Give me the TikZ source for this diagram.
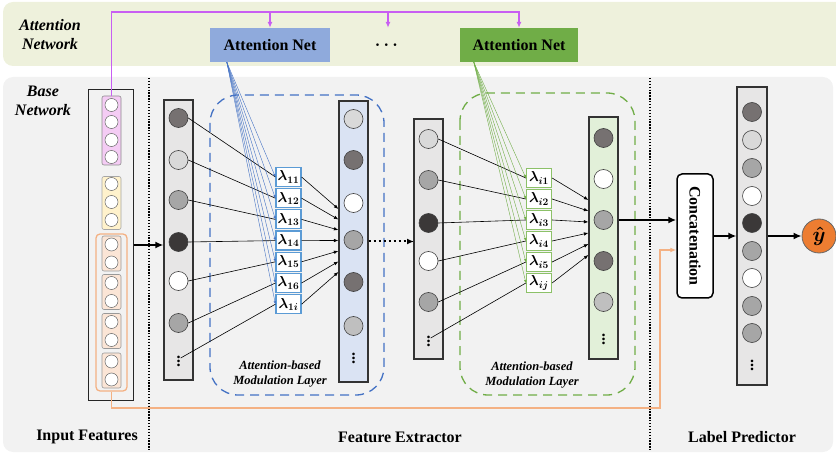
\documentclass[tikz,border=0pt]{standalone}
\usepackage{amsmath}
\usepackage{fontspec}
\setmainfont{Liberation Serif}
\usetikzlibrary{calc,arrows.meta}

\definecolor{attbg}{HTML}{EEF1DC}
\definecolor{basebg}{HTML}{F2F2F2}
\definecolor{netblue}{HTML}{8FAADC}
\definecolor{netgreen}{HTML}{70AD47}
\definecolor{dashblue}{HTML}{4472C4}
\definecolor{lamblue}{HTML}{5B9BD5}
\definecolor{lamgreen}{HTML}{8CC168}
\definecolor{layblue}{HTML}{DAE3F3}
\definecolor{laygreen}{HTML}{E2F0D9}
\definecolor{laygray}{HTML}{E7E6E6}
\definecolor{magline}{HTML}{C85EF2}
\definecolor{orline}{HTML}{F4B183}
\definecolor{yhatfill}{HTML}{ED7D31}
\definecolor{pinkfill}{HTML}{F4CCF4}
\definecolor{yellowfill}{HTML}{FFF2CC}
\definecolor{peachfill}{HTML}{FBE5D6}
\definecolor{nA}{HTML}{767171}
\definecolor{nB}{HTML}{D9D9D9}
\definecolor{nC}{HTML}{A6A6A6}
\definecolor{nD}{HTML}{3B3838}
\definecolor{nE}{HTML}{BFBFBF}

\tikzset{
	layer/.style={draw=black!80, line width=1.2pt, minimum width=29, inner sep=0},
	neuron/.style={circle, draw=black!75, line width=0.6pt, minimum size=19, inner sep=0},
	feat/.style={circle, draw=black!60, fill=white, line width=0.5pt, minimum size=13, inner sep=0},
	fgroup/.style={draw=black!40, line width=0.6pt, rounded corners=2, minimum width=19, inner sep=0},
	lamb/.style={line width=1.2pt, fill=white, minimum width=25, minimum height=19, inner sep=0, font=\boldmath\fontsize{14}{14}\selectfont},
	dotsnode/.style={inner sep=0, font=\bfseries\fontsize{16}{16}\selectfont},
	attnet/.style={minimum width=120, minimum height=34, font=\bfseries\fontsize{16}{19}\selectfont},
	title/.style={align=center, font=\bfseries\itshape\fontsize{16}{19}\selectfont},
	modtext/.style={align=center, font=\bfseries\itshape\fontsize{12.5}{15.5}\selectfont},
	part/.style={font=\bfseries\fontsize{16}{19}\selectfont},
	sep/.style={line width=1.3pt, dash pattern=on 1.3pt off 1.6pt},
	bigarrow/.style={->, line width=1.8pt, >={Latex[length=8pt,width=7pt]}},
	fan/.style={->, line width=0.4pt, >={Latex[length=3pt,width=2.5pt]}},
	link/.style={line width=0.6pt},
	linkarrow/.style={->, line width=0.6pt, >={Latex[length=4.5pt,width=3.5pt]}}
}

\begin{document}
\begin{tikzpicture}[x=1pt, y=-1pt, >={Latex[length=6pt,width=5pt]}]
	\useasboundingbox (0,0) rectangle (836,457);
	
	% background bands
	\fill[attbg, rounded corners=10] (3,2) rectangle (850,66);
	\fill[basebg, rounded corners=10] (3,77) rectangle (833,452);
	
	\node[title] (attitle) at (50,35) {Attention\\Network};
	\node[title] (basetitle) at (43,101) {Base\\Network};
	
	% attention networks
	\node[attnet, fill=netblue] (att1) at (270,45) {Attention Net};
	\node[attnet, minimum width=20, font=\boldmath\fontsize{16}{16}\selectfont] (attdots) at (388,45) {$\cdots$};
	\node[attnet, fill=netgreen, minimum width=118] (att2) at (519,45) {Attention Net};
	
	% separators
	\draw[sep] (149,78) -- (149,452);
	\draw[sep] (650,78) -- (650,452);
	
	% input features
	\node[draw=black!85, line width=1pt, fill=basebg, minimum width=45, minimum height=310] (input) at (110.5,245) {};
	\node[fgroup, fill=pinkfill, draw=black!45, minimum height=69] (pink) at (111.5,130.5) {};
	\foreach \y [count=\k] in {105,122,140,157}
		\node[feat] (p\k) at (111.5,\y) {};
	\node[fgroup, fill=yellowfill, draw=black!35, minimum height=53] (ylw) at (111.5,203) {};
	\foreach \y [count=\k] in {184,202,220}
		\node[feat] (q\k) at (111.5,\y) {};
	\node[draw=orline, line width=1.3pt, rounded corners=4, minimum width=31, minimum height=157] (orgrp) at (111.5,312.5) {};
	\foreach \y [count=\k] in {253.5,292,331,370.5} {
		\node[fgroup, fill=peachfill, minimum height=35] (sub\k) at (111.5,\y) {};
		\node[feat] (r\k a) at (111.5,\y-9) {};
		\node[feat] (r\k b) at (111.5,\y+9) {};
	}
	
	% feature extractor, first part
	\node[layer, fill=laygray, minimum height=280] (layer1) at (178.5,240) {};
	\foreach \y/\c [count=\k] in {118/nA,160/nB,200/nC,242/nD,281/white,323/nC}
		\node[neuron, fill=\c] (a\k) at (178.5,\y) {};
	\node[dotsnode] (a7) at (178.5,358) {\vdots};
	
	\draw[dashblue, line width=1.3pt, dash pattern=on 9pt off 6pt, rounded corners=28] (210,95) rectangle (384,395);
	\node[modtext] (mod1) at (280,374) {Attention-based\\Modulation Layer};
	
	\node[layer, fill=layblue, minimum height=281] (layer2) at (353.5,241.5) {};
	\foreach \y/\c [count=\k] in {119/nB,160/nA,203/white,240/nC,282/nA,326/nE}
		\node[neuron, fill=\c] (b\k) at (353.5,\y) {};
	\node[dotsnode] (b7) at (353.5,355) {\vdots};
	
	\coordinate (fanA) at ($(att1.south west)+(17,0)$);
	\foreach \s [count=\k] in {11,12,13,14,15,16,1i} {
		\node[lamb, draw=lamblue] (la\k) at (288.5,{177+21.2*(\k-1)}) {$\lambda_{\s}$};
		\draw[link] (a\k.east) -- (la\k.west);
		\draw[linkarrow] (la\k.east) -- ($(layer2.west)+(0,{-32.5+10.5*(\k-1)})$);
		\draw[fan, dashblue] (fanA) -- (la\k.west);
	}
	
	\draw[->, line width=2pt, dash pattern=on 2.5pt off 2.5pt, >={Latex[length=7pt,width=6pt]}] (layer2.east) -- (layer2.east -| 414,0);
	
	% feature extractor, second part
	\node[layer, fill=laygray, minimum height=240] (layer3) at (428.5,239) {};
	\foreach \y/\c [count=\k] in {139/nB,180/nC,223/nD,261/white,302/nC}
		\node[neuron, fill=\c] (c\k) at (428.5,\y) {};
	\node[dotsnode] (c6) at (428.5,338) {\vdots};
	
	\draw[netgreen, line width=1.3pt, dash pattern=on 9pt off 6pt, rounded corners=28] (460,93) rectangle (635,395);
	\node[modtext] (mod2) at (532,375) {Attention-based\\Modulation Layer};
	
	\node[layer, fill=laygreen, minimum height=242] (layer4) at (603.5,238) {};
	\foreach \y/\c [count=\k] in {138/nA,179/white,220/nC,261/nA,302/nE}
		\node[neuron, fill=\c] (d\k) at (603.5,\y) {};
	\node[dotsnode] (d6) at (603.5,336) {\vdots};
	
	\coordinate (fanB) at ($(att2.south west)+(14,0)$);
	\foreach \s [count=\k] in {i1,i2,i3,i4,i5,ij} {
		\node[lamb, draw=lamgreen] (lb\k) at (539,{178+21*(\k-1)}) {$\lambda_{\s}$};
		\draw[link] (c\k.east) -- (lb\k.west);
		\draw[linkarrow] (lb\k.east) -- ($(layer4.west)+(0,{-38+11*(\k-1)})$);
		\draw[fan, netgreen] (fanB) -- (lb\k.west);
	}
	
	% label predictor
	\node[draw, line width=1.5pt, fill=white, rounded corners=5, minimum width=36, minimum height=124, inner sep=0, font=\bfseries\fontsize{16}{19}\selectfont] (concat) at (695,236) {\rotatebox{-90}{Concatenation}};
	\node[layer, fill=laygray, minimum width=30, minimum height=298] (layer5) at (752,236) {};
	\foreach \y/\c [count=\k] in {112/nA,140/nB,168/nC,196/white,223/nD,251/nC,278/white,306/nC,333/nC}
		\node[neuron, fill=\c] (e\k) at (752,\y) {};
	\node[dotsnode] (e10) at (752,362) {\vdots};
	\node[circle, draw=black!60, line width=0.8pt, fill=yhatfill, minimum size=34, inner sep=0, font=\boldmath\fontsize{20}{20}\selectfont] (yhat) at (819,236) {$\hat{y}$};
	
	% connectors
	\draw[bigarrow] (input.east) -- (input.east -| layer1.west);
	\draw[bigarrow] (d3 -| layer4.east) -- (d3 -| concat.west);
	\draw[bigarrow] (concat.east) -- (concat.east -| layer5.west);
	\draw[bigarrow] (layer5.east) -- (yhat.west);
	
	\coordinate (magtop) at (111.5,12);
	\draw[->, magline, line width=1.4pt] (pink.north) -- (magtop) -| (att2.north);
	\draw[->, magline, line width=1.4pt] (magtop -| att1.north) -- (att1.north);
	\draw[->, magline, line width=1.4pt] (magtop -| attdots.north) -- (attdots.north);
	
	\coordinate (orbend) at (660,408);
	\coordinate (orin) at ($(concat.west)+(0,14)$);
	\draw[->, orline, line width=1.3pt] (orgrp.south) |- (orbend) |- (orin);
	
	% part labels
	\node[part] (lblin) at (87,437) {Input Features};
	\node[part] (lblfe) at (400,437) {Feature Extractor};
	\node[part] (lbllp) at (742,437) {Label Predictor};
\end{tikzpicture}
\end{document}
